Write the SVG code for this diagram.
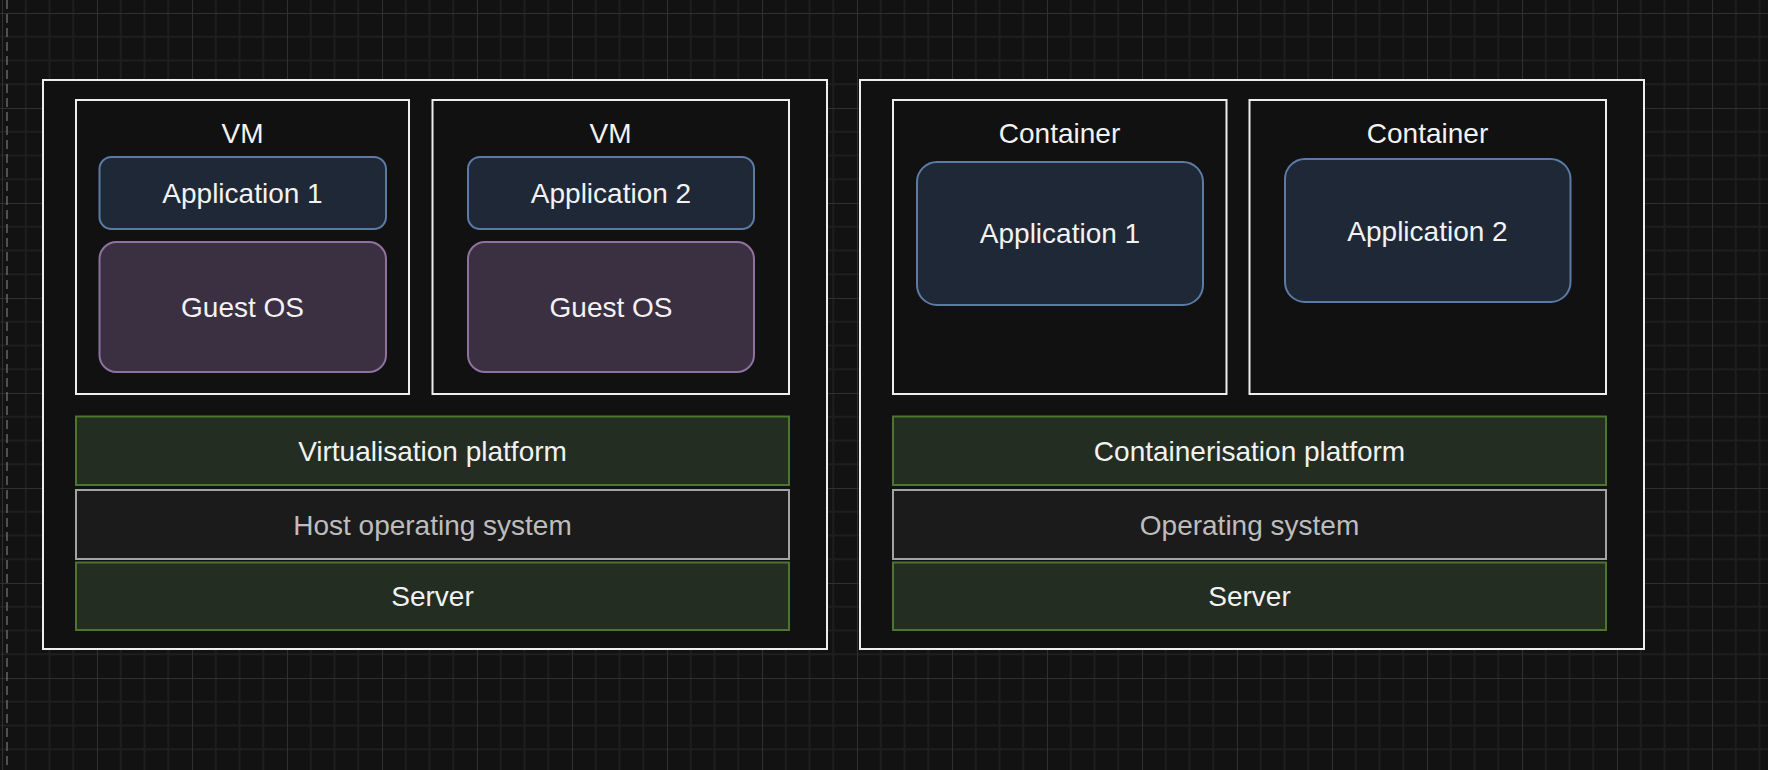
<svg xmlns="http://www.w3.org/2000/svg" width="1768" height="770" viewBox="0 0 1768 770">
  <defs>
    <pattern id="grid" patternUnits="userSpaceOnUse" x="2" y="13" width="95" height="95">
      <path d="M23.75 0V95M47.5 0V95M71.25 0V95M0 23.75H95M0 47.5H95M0 71.25H95" stroke="#1e1e1e" stroke-width="2" fill="none"/>
      <path d="M0.5 0V95M0 0.5H95" stroke="#303030" stroke-width="1" fill="none"/>
    </pattern>
    <style>
      .outer { fill: #111111; stroke: #eeeeee; stroke-width: 2; }
      .box { fill: #111111; stroke: #eeeeee; stroke-width: 2; }
      .app { fill: #1f2836; stroke: #5b7ba6; stroke-width: 2; }
      .guest { fill: #3a3042; stroke: #8e719e; stroke-width: 2; }
      .green { fill: #242d22; stroke: #4c7530; stroke-width: 2; }
      .host { fill: #1b1b1b; stroke: #a3a3a3; stroke-width: 2; }
      text { font-family: "Liberation Sans", Arial, Helvetica, sans-serif; font-size: 28px; fill: #f2f2f2; text-anchor: middle; }
      .grey { fill: #bdbdbd; }
    </style>
  </defs>
  <rect width="1768" height="770" fill="#121212"/>
  <rect width="1768" height="770" fill="url(#grid)"/>
  <line x1="7" y1="0" x2="7" y2="770" stroke="#666666" stroke-width="1.5" stroke-dasharray="9 5"/>

  <g id="virtualisation-stack">
    <rect class="outer" x="43" y="80" width="784" height="569"/>
  </g>
  <g id="vm-1">
    <rect class="box" x="76" y="100" width="333" height="294"/>
    <text x="242.5" y="142.8">VM</text>
  </g>
  <g id="vm1-application-1">
    <rect class="app" x="99.5" y="157" width="286.5" height="72" rx="12"/>
    <text x="242.5" y="203.2">Application 1</text>
  </g>
  <g id="vm1-guest-os">
    <rect class="guest" x="99.5" y="242" width="286.5" height="130" rx="17"/>
    <text x="242.5" y="317">Guest OS</text>
  </g>
  <g id="vm-2">
    <rect class="box" x="432.5" y="100" width="356.5" height="294"/>
    <text x="610.5" y="142.8">VM</text>
  </g>
  <g id="vm2-application-2">
    <rect class="app" x="468" y="157" width="286" height="72" rx="12"/>
    <text x="611" y="203.2">Application 2</text>
  </g>
  <g id="vm2-guest-os">
    <rect class="guest" x="468" y="242" width="286" height="130" rx="17"/>
    <text x="611" y="317">Guest OS</text>
  </g>
  <g id="virtualisation-platform">
    <rect class="green" x="76" y="416.5" width="713" height="68.5"/>
    <text x="432.5" y="460.5">Virtualisation platform</text>
  </g>
  <g id="host-operating-system">
    <rect class="host" x="76" y="490" width="713" height="69"/>
    <text class="grey" x="432.5" y="534.8">Host operating system</text>
  </g>
  <g id="server-left">
    <rect class="green" x="76" y="562.5" width="713" height="67.5"/>
    <text x="432.5" y="606">Server</text>
  </g>

  <g id="containerisation-stack">
    <rect class="outer" x="860" y="80" width="784" height="569"/>
  </g>
  <g id="container-1">
    <rect class="box" x="893" y="100" width="333.5" height="294"/>
    <text x="1059.5" y="142.8">Container</text>
  </g>
  <g id="container1-application-1">
    <rect class="app" x="917" y="162" width="286" height="143" rx="20"/>
    <text x="1060" y="243">Application 1</text>
  </g>
  <g id="container-2">
    <rect class="box" x="1249.5" y="100" width="356.5" height="294"/>
    <text x="1427.5" y="142.8">Container</text>
  </g>
  <g id="container2-application-2">
    <rect class="app" x="1285" y="159" width="285.5" height="143" rx="20"/>
    <text x="1427.5" y="241">Application 2</text>
  </g>
  <g id="containerisation-platform">
    <rect class="green" x="893" y="416.5" width="713" height="68.5"/>
    <text x="1249.5" y="460.5">Containerisation platform</text>
  </g>
  <g id="operating-system">
    <rect class="host" x="893" y="490" width="713" height="69"/>
    <text class="grey" x="1249.5" y="534.8">Operating system</text>
  </g>
  <g id="server-right">
    <rect class="green" x="893" y="562.5" width="713" height="67.5"/>
    <text x="1249.5" y="606">Server</text>
  </g>

  <g id="connectors"></g>
</svg>
